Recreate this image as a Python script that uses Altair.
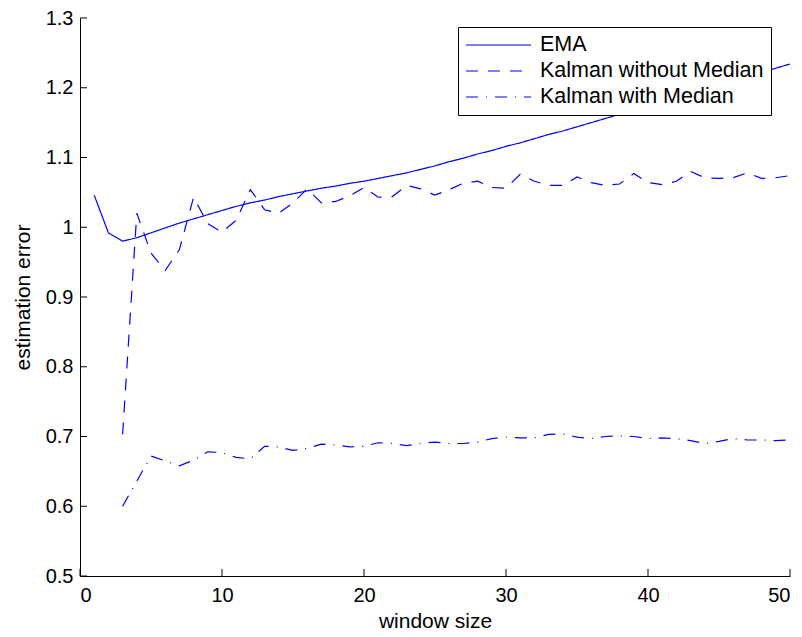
import altair as alt
import pandas as pd

# ---- data ----
ema_x = list(range(1, 51))
ema_y = [1.046, 0.992, 0.980, 0.985, 0.992, 0.999, 1.006, 1.012, 1.018, 1.024,
         1.030, 1.035, 1.039, 1.044, 1.048, 1.052, 1.056, 1.059, 1.063, 1.066,
         1.070, 1.074, 1.078, 1.083, 1.088, 1.094, 1.099, 1.105, 1.110, 1.116,
         1.121, 1.127, 1.133, 1.138, 1.144, 1.150, 1.156, 1.162, 1.168, 1.174,
         1.180, 1.186, 1.192, 1.198, 1.204, 1.210, 1.216, 1.222, 1.228, 1.234]

kwo_x = list(range(3, 51))
kwo_y = [0.703, 1.020, 0.963, 0.938, 0.968, 1.043, 1.005, 0.993, 1.010, 1.054,
         1.025, 1.020, 1.035, 1.055, 1.035, 1.037, 1.045, 1.057, 1.043, 1.044,
         1.060, 1.055, 1.046, 1.054, 1.063, 1.066, 1.057, 1.056, 1.076, 1.066,
         1.060, 1.060, 1.072, 1.064, 1.060, 1.062, 1.077, 1.064, 1.061, 1.066,
         1.080, 1.071, 1.070, 1.071, 1.078, 1.070, 1.071, 1.074]

kwm_x = list(range(3, 51))
kwm_y = [0.600, 0.636, 0.672, 0.665, 0.658, 0.666, 0.678, 0.677, 0.670, 0.668,
         0.686, 0.685, 0.680, 0.683, 0.689, 0.688, 0.685, 0.686, 0.691, 0.690,
         0.687, 0.690, 0.692, 0.690, 0.690, 0.692, 0.697, 0.699, 0.698, 0.698,
         0.703, 0.704, 0.699, 0.697, 0.700, 0.701, 0.700, 0.697, 0.698, 0.697,
         0.694, 0.690, 0.693, 0.697, 0.695, 0.695, 0.694, 0.695]

series_names = ["EMA", "Kalman without Median", "Kalman with Median"]
x_ticks = [0, 10, 20, 30, 40, 50]
y_ticks = [0.5, 0.6, 0.7, 0.8, 0.9, 1.0, 1.1, 1.2, 1.3]

rows = []
for name, xs, ys in zip(series_names, [ema_x, kwo_x, kwm_x], [ema_y, kwo_y, kwm_y]):
    for xv, yv in zip(xs, ys):
        rows.append({"window": xv, "error": yv, "series": name})
df = pd.DataFrame(rows)

W, H = 710, 558
FONT = "Liberation Sans"
BLUE = "#0000ff"

xscale = alt.Scale(domain=[0, 50], nice=False, zero=False)
yscale = alt.Scale(domain=[0.5, 1.3], nice=False, zero=False)

lines = alt.Chart(df).mark_line(color=BLUE, strokeWidth=1.2).encode(
    x=alt.X("window:Q", scale=xscale,
            axis=alt.Axis(title="window size", values=x_ticks, ticks=False,
                          grid=False, labelPadding=9, titlePadding=5,
                          format="d")),
    y=alt.Y("error:Q", scale=yscale,
            axis=alt.Axis(title="estimation error", values=y_ticks, ticks=False,
                          grid=False, labelPadding=7, titlePadding=12,
                          labelExpr="datum.value == 1 ? '1' : format(datum.value, '.1f')")),
    strokeDash=alt.StrokeDash(
        "series:N",
        scale=alt.Scale(domain=series_names, range=[[1, 0], [12, 10], [12, 8, 1, 8]]),
        sort=series_names,
        legend=alt.Legend(title=None, orient="none", legendX=378, legendY=9,
                          symbolType="stroke", symbolSize=4225,
                          symbolStrokeColor=BLUE, symbolStrokeWidth=1.2,
                          labelFont=FONT, labelFontSize=21.5, labelColor="black",
                          labelOffset=8, rowPadding=4, padding=7,
                          clipHeight=22,
                          strokeColor="black", fillColor="white",
                          labelLimit=400),
    ),
    order=alt.Order("window:Q"),
)

ytick_df = pd.DataFrame({"v": y_ticks})
xtick_df = pd.DataFrame({"v": x_ticks})

ytk = alt.Chart(ytick_df).mark_rule(color="black", strokeWidth=1).encode(
    y=alt.Y("v:Q", scale=yscale), x=alt.value(0), x2=alt.value(7))
xtk = alt.Chart(xtick_df).mark_rule(color="black", strokeWidth=1).encode(
    x=alt.X("v:Q", scale=xscale), y=alt.value(H), y2=alt.value(H - 7))

chart = alt.layer(lines, ytk, xtk).properties(
    width=W, height=H,
    background="white",
    autosize=alt.AutoSizeParams(type="none"),
    padding={"left": 72, "top": 10, "right": 4, "bottom": 56},
).configure_view(stroke=None).configure_axis(
    domainColor="black", domainWidth=1, labelFont=FONT, labelFontSize=20,
    labelColor="black", titleFont=FONT, titleFontSize=21, titleColor="black",
    titleFontWeight="normal",
)

chart.save("out.html", embed_options={"renderer": "svg", "actions": False})
